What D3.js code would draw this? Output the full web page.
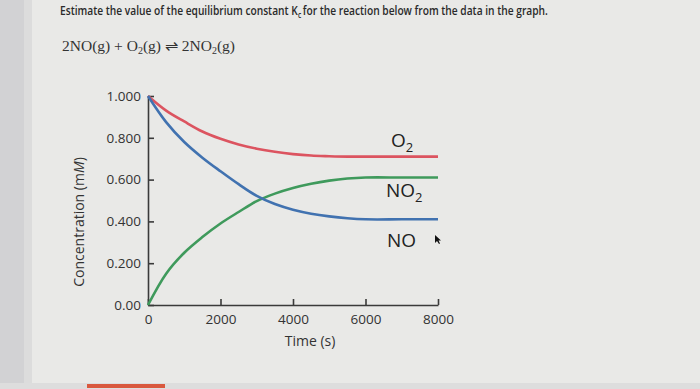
<!DOCTYPE html>
<html>
<head>
<meta charset="utf-8">
<script src="https://cdn.jsdelivr.net/npm/d3@7"></script>
<style>
  body { margin: 0; background: #e9e9e7; }
  svg { display: block; }
</style>
</head>
<body>
<div id="chart"></div>
<script>
// time points (s)
var times = [0, 500, 1000, 1500, 2000, 2500, 3000, 3500, 4000, 4500, 5000, 5500, 6000, 7000, 8000];

// concentrations (mM)
var no = [1.00, 0.875, 0.78, 0.705, 0.64, 0.578, 0.522, 0.483, 0.456, 0.437, 0.424, 0.415, 0.41, 0.41, 0.41];
var o2 = [1.00, 0.93, 0.878, 0.83, 0.795, 0.768, 0.748, 0.733, 0.722, 0.715, 0.712, 0.71, 0.71, 0.71, 0.71];
var no2 = [0.00, 0.15, 0.25, 0.325, 0.39, 0.445, 0.497, 0.533, 0.56, 0.58, 0.595, 0.605, 0.61, 0.61, 0.61];

var yTicks = [0, 0.2, 0.4, 0.6, 0.8, 1.0];
var yTickLabels = ["0.00", "0.200", "0.400", "0.600", "0.800", "1.000"];
var xTicks = [0, 2000, 4000, 6000, 8000];

var series = [
  {name: "O2", values: o2, color: "#dc5460"},
  {name: "NO2", values: no2, color: "#3f9a5c"},
  {name: "NO", values: no, color: "#4172b0"}
];

var width = 700, height = 389;

var svg = d3.select("#chart").append("svg")
  .attr("width", width)
  .attr("height", height);

// photo background: darker strip at the left, page edge at the bottom
svg.append("rect").attr("x", 0).attr("y", 0).attr("width", 30).attr("height", height).attr("fill", "#d2d2d4");
svg.append("rect").attr("x", 24).attr("y", 0).attr("width", 8).attr("height", height).attr("fill", "#dcdcdc");
svg.append("rect").attr("x", 0).attr("y", 383).attr("width", width).attr("height", 6).attr("fill", "#dddddd");
svg.append("rect").attr("x", 87).attr("y", 384).attr("width", 78).attr("height", 4).attr("fill", "#d9583e");

// question text, squeezed to the width it has in the photo
var titleG = svg.append("g");
var tA = titleG.append("text").attr("x", 0).attr("y", 0)
  .attr("font-family", "Open Sans, sans-serif").attr("font-size", 12.5).attr("font-weight", 600)
  .attr("fill", "#2a2a2a").text("Estimate the value of the equilibrium constant K");
var wA = tA.node().getComputedTextLength();
var tSub = titleG.append("text").attr("x", wA).attr("y", 3)
  .attr("font-family", "Open Sans, sans-serif").attr("font-size", 8).attr("font-weight", 600)
  .attr("fill", "#2a2a2a").text("c");
var wSub = tSub.node().getComputedTextLength();
var tB = titleG.append("text").attr("x", wA + wSub + 2).attr("y", 0)
  .attr("font-family", "Open Sans, sans-serif").attr("font-size", 12.5).attr("font-weight", 600)
  .attr("fill", "#2a2a2a").text(" for the reaction below from the data in the graph.");
var wTotal = wA + wSub + 2 + tB.node().getComputedTextLength();
titleG.attr("transform", "translate(60,15) scale(" + (488 / wTotal) + ",1)");

var eq = svg.append("text")
  .attr("x", 62).attr("y", 51)
  .attr("font-family", "Liberation Serif, serif")
  .attr("font-size", 15.5)
  .attr("fill", "#333");
eq.append("tspan").text("2NO(g) + O");
eq.append("tspan").attr("font-size", 10).attr("dy", 3).text("2");
eq.append("tspan").attr("dy", -3).text("(g) \u21CC 2NO");
eq.append("tspan").attr("font-size", 10).attr("dy", 3).text("2");
eq.append("tspan").attr("dy", -3).text("(g)");

// scales
var x = d3.scaleLinear().domain([0, 8000]).range([148, 438]);
var y = d3.scaleLinear().domain([0, 1]).range([305, 96]);

// axes
var xAxis = svg.append("g")
  .attr("transform", "translate(0," + y(0) + ")")
  .call(d3.axisBottom(x).tickValues(xTicks).tickSizeInner(-6).tickSizeOuter(0).tickPadding(9)
    .tickFormat(d3.format("d")));

var yAxis = svg.append("g")
  .attr("transform", "translate(" + x(0) + ",0)")
  .call(d3.axisLeft(y).tickValues(yTicks).tickSizeInner(-6).tickSizeOuter(0).tickPadding(7)
    .tickFormat(function(d, i) { return yTickLabels[i]; }));

[xAxis, yAxis].forEach(function(a) {
  a.select(".domain").attr("stroke", "#3a3a3a").attr("stroke-width", 1.6);
  a.selectAll(".tick line").attr("stroke", "#3a3a3a").attr("stroke-width", 1.6);
  a.selectAll(".tick text")
    .attr("font-family", "Open Sans, sans-serif")
    .attr("font-size", 13.5)
    .attr("fill", "#333");
});

// axis titles
svg.append("text")
  .attr("transform", "translate(84,222) rotate(-90)")
  .attr("text-anchor", "middle")
  .attr("font-family", "Open Sans, sans-serif")
  .attr("font-size", 14)
  .attr("fill", "#333")
  .html("Concentration (m<tspan font-style='italic'>M</tspan>)");

svg.append("text")
  .attr("x", 310).attr("y", 346)
  .attr("text-anchor", "middle")
  .attr("font-family", "Open Sans, sans-serif")
  .attr("font-size", 14)
  .attr("fill", "#333")
  .text("Time (s)");

// curves
var line = d3.line()
  .x(function(d) { return x(d[0]); })
  .y(function(d) { return y(d[1]); })
  .curve(d3.curveCatmullRom.alpha(0.5));

svg.selectAll("path.series")
  .data(series)
  .enter()
  .append("path")
  .attr("class", "series")
  .attr("d", function(s) { return line(times.map(function(t, i) { return [t, s.values[i]]; })); })
  .attr("fill", "none")
  .attr("stroke", function(s) { return s.color; })
  .attr("stroke-width", 2.6);

// curve labels
var labels = [
  {base: "O", sub: "2", x: 391, y: 147},
  {base: "NO", sub: "2", x: 386, y: 197},
  {base: "NO", sub: "", x: 387, y: 247}
];
labels.forEach(function(l) {
  var t = svg.append("text")
    .attr("x", l.x).attr("y", l.y)
    .attr("font-family", "Open Sans, sans-serif")
    .attr("font-size", 19)
    .attr("fill", "#222");
  t.append("tspan").text(l.base);
  if (l.sub) t.append("tspan").attr("font-size", 13).attr("dy", 5).text(l.sub);
});

// mouse pointer visible in the photo
svg.append("path")
  .attr("d", "M435,235 L435,243 L437,241 L439,244 L440,243.5 L438.5,240.5 L441,240.5 Z")
  .attr("fill", "#111");
</script>
</body>
</html>
